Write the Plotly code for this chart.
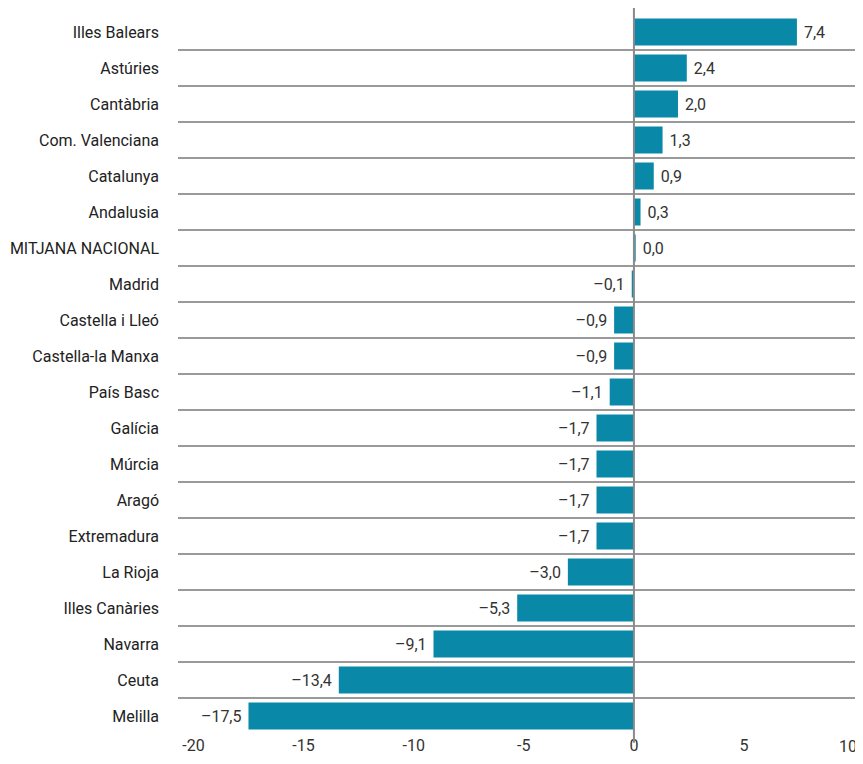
import plotly.graph_objects as go

categories = ["Illes Balears", "Astúries", "Cantàbria", "Com. Valenciana", "Catalunya",
              "Andalusia", "MITJANA NACIONAL", "Madrid", "Castella i Lleó", "Castella-la Manxa",
              "País Basc", "Galícia", "Múrcia", "Aragó", "Extremadura", "La Rioja",
              "Illes Canàries", "Navarra", "Ceuta", "Melilla"]
values = [7.4, 2.4, 2.0, 1.3, 0.9, 0.3, 0.0, -0.1, -0.9, -0.9,
          -1.1, -1.7, -1.7, -1.7, -1.7, -3.0, -5.3, -9.1, -13.4, -17.5]
x_ticks = [-20, -15, -10, -5, 0, 5, 10]
x_ticktext = ["-20", "-15", "-10", "-5", "0", "5", "10"]

NB = "\u00a0"
def fmt(v):
    s = f"{abs(v):.1f}".replace(".", ",")
    return ("–" + s + NB) if v < 0 else (NB + s)

labels = [fmt(v) for v in values]
# tiny visible width for the zero bar
plot_vals = [v if v != 0 else 0.08 for v in values]

FONT = "Roboto, Arial, sans-serif"
fig = go.Figure(go.Bar(
    x=plot_vals, y=categories, orientation="h",
    marker=dict(color="#0a88a8", line=dict(width=0)),
    text=labels, textposition="outside", cliponaxis=False,
    textfont=dict(family=FONT, size=16, color="#333333"),
    hoverinfo="skip",
))

# last tick label drawn as an annotation nudged inward so it stays inside the page
fig.add_annotation(x=x_ticks[-1], y=0, xref="x", yref="paper", text=x_ticktext[-1],
                   showarrow=False, yanchor="top", xanchor="center", xshift=-6, yshift=-1,
                   font=dict(family=FONT, size=16, color="#333333"))

fig.update_layout(
    width=855, height=756,
    margin=dict(l=170, r=0, t=6, b=30, autoexpand=False),
    paper_bgcolor="white", plot_bgcolor="white",
    bargap=0.25, showlegend=False,
    font=dict(family=FONT, size=16, color="#333333"),
    xaxis=dict(range=[-20.7, 10.4], tickvals=x_ticks[:-1], ticktext=x_ticktext[:-1],
               showgrid=False, zeroline=False, showline=False, ticks="",
               automargin=False,
               tickfont=dict(family=FONT, size=16, color="#333333")),
    yaxis=dict(range=[19.5, -0.5], tickson="boundaries", showgrid=True,
               gridcolor="#9a9a9a", gridwidth=2, ticks="", showline=False,
               zeroline=False, ticklabelstandoff=18, automargin=False,
               tickfont=dict(family=FONT, size=16, color="#222222")),
    shapes=[dict(type="line", xref="x", yref="paper", x0=0, x1=0, y0=-0.012, y1=1.01,
                 line=dict(color="#8a8a8a", width=2), layer="above")],
)

fig.write_html("out.html")
